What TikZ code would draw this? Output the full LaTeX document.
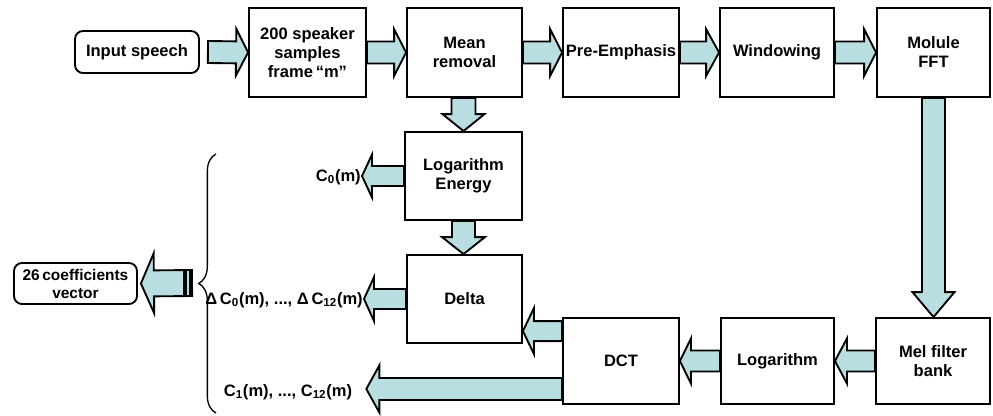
\documentclass[tikz,border=0pt]{standalone}
\usepackage{fontspec}
\setmainfont{Liberation Sans}
\usetikzlibrary{calc,decorations.pathreplacing}
\definecolor{arrfill}{RGB}{184,222,225}
\tikzset{
  txt/.style={font=\fontsize{12.4}{14.25}\selectfont\bfseries, align=center},
  box/.style={txt, draw, line width=1.4pt, fill=white, inner sep=0pt},
  rbox/.style={box, rounded corners=6pt},
  lbl/.style={txt, inner sep=0.75pt},
  blockarrow/.style={draw, line width=1.4pt, fill=arrfill, line join=miter},
}
% #1 tail, #2 tip, #3 shaft half width, #4 head half width, #5 head length (all px)
\newcommand\barrow[5]{%
  \path (#1) coordinate (tt);
  \path (#2) coordinate (pp);
  \path ($(pp)!#5*0.75pt!(tt)$) coordinate (bb);
  \draw[blockarrow] ($(tt)!#3*0.75pt!90:(pp)$) -- ($(bb)!#3*0.75pt!90:(pp)$)
     -- ($(bb)!#4*0.75pt!90:(pp)$) -- (pp) -- ($(bb)!#4*0.75pt!-90:(pp)$)
     -- ($(bb)!#3*0.75pt!-90:(pp)$) -- ($(tt)!#3*0.75pt!-90:(pp)$) -- cycle;
}
\begin{document}
\begin{tikzpicture}[x=0.75pt,y=-0.75pt]
\useasboundingbox (0,0) rectangle (993,415);
% top row
\node[rbox, minimum width=93pt, minimum height=31.5pt] (in) at (137,52) {Input speech};
\node[box, minimum width=87.75pt, minimum height=66.75pt] (s200) at (307.5,52.5) {200 speaker\\samples\\frame\,\textquotedblleft m\textquotedblright};
\node[box, minimum width=86.25pt, minimum height=66.75pt] (mean) at (464.5,52.5) {Mean\\removal};
\node[box, minimum width=87pt, minimum height=66.75pt] (pre) at (621,52.5) {Pre-Emphasis};
\node[box, minimum width=85.5pt, minimum height=66.75pt] (win) at (777,52.5) {Windowing};
\node[box, minimum width=84.75pt, minimum height=66.75pt] (fft) at (933.5,52.5) {Molule\\FFT};
% middle column
\node[box, minimum width=87.75pt, minimum height=66pt] (loge) at (463.5,176) {Logarithm\\Energy};
\node[box, minimum width=86.25pt, minimum height=66pt] (delta) at (464.5,299) {Delta};
% bottom row
\node[box, minimum width=85.5pt, minimum height=64.5pt] (mel) at (933,361) {Mel filter\\bank};
\node[box, minimum width=84.75pt, minimum height=64.5pt] (logn) at (777.5,361) {Logarithm};
\node[box, minimum width=87pt, minimum height=64.5pt] (dct) at (621,361) {DCT};
% left side
\node[rbox, minimum width=92.25pt, minimum height=30.75pt, font=\fontsize{11.6}{13.5}\selectfont\bfseries] (vec) at (75.5,283.5) {26\,coefficients\\vector};
\node[lbl, anchor=east] (c0) at (362,177) {C\textsubscript{0}(m)};
\node[lbl, anchor=east] (dc) at (364,300) {Δ\,C\textsubscript{0}(m), ..., Δ\,C\textsubscript{12}(m)};
\node[lbl] (c1) at (288,392) {C\textsubscript{1}(m), ..., C\textsubscript{12}(m)};
% brace
\coordinate (brb) at (216,413);
\coordinate (brt) at (216,154);
\draw[line width=1pt, decorate, decoration={brace, amplitude=13pt}] (brb) -- (brt);
% arrows top row
\barrow{$(in.east)+(8,0)$}{s200.west}{11}{23.5}{12}
\barrow{s200.east}{mean.west}{11}{23.5}{12}
\barrow{mean.east}{pre.west}{11}{23.5}{12}
\barrow{pre.east}{win.west}{11}{23.5}{13}
\barrow{win.east}{fft.west}{11}{23.5}{12}
% down arrows
\barrow{fft.south}{fft.south |- mel.north}{11.5}{21}{25}
\barrow{loge.north |- mean.south}{loge.north}{12}{21}{17}
\barrow{loge.south}{loge.south |- delta.north}{11.5}{21.5}{17}
% bottom row
\barrow{mel.west}{logn.east}{10.5}{22.5}{12}
\barrow{logn.west}{dct.east}{10.5}{22.5}{11}
\coordinate (t9) at ($(dct.north west)+(0,14)$);
\barrow{t9}{delta.east |- t9}{10}{23}{11}
\coordinate (t10) at ($(dct.south west)+(0,-16)$);
\coordinate (p10) at ($(c1.east)+(13,0)$);
\barrow{t10}{p10 |- t10}{11}{23.5}{13}
% outputs
\barrow{loge.west}{c0.east |- loge.west}{10}{21.5}{10}
\barrow{delta.west}{dc.east |- delta.west}{10}{22}{10}
% final arrow to vector
\coordinate (t15) at (192,283);
\barrow{t15}{$(vec.east)+(3,0)$}{13}{30}{13}
\fill[black] (183,271) rectangle (187,297);
\fill[black] (189,271) rectangle (192.5,297);
\end{tikzpicture}
\end{document}
